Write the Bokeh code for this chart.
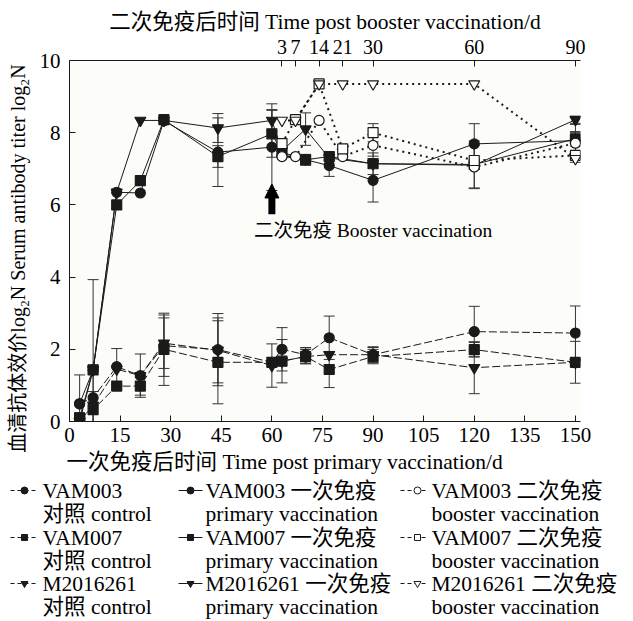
from bokeh.plotting import figure
from bokeh.models import (ColumnDataSource, Whisker, TeeHead, LinearAxis, FixedTicker,
                          Range1d, Arrow, NormalHead, Label)
from bokeh.core.properties import value
from bokeh.embed import file_html
from bokeh.resources import INLINE

# ---------------- data ----------------
days = [3, 7, 14, 21, 28, 44, 60, 63, 70, 77, 90, 120, 150]
booster_day = 60
boost_rel = [3, 7, 14, 21, 30, 60, 90]
x_ticks = [0, 15, 30, 45, 60, 75, 90, 105, 120, 135, 150]
y_ticks = [0, 2, 4, 6, 8, 10]

# controls (dashed)
ctrl_vam003 = [0.49, 0.66, 1.52, 1.27, 2.10, 1.99, 1.64, 2.00, 1.85, 2.32, 1.85, 2.49, 2.45]
ctrl_vam003_err = [0.8, 0.9, 0.5, 0, 0.85, 1.0, 0, 0.6, 0.2, 0.6, 0.22, 0.7, 0.75]
ctrl_vam007 = [0.10, 0.33, 0.98, 0.98, 2.00, 1.64, 1.64, 1.67, 1.80, 1.44, 1.80, 1.99, 1.64]
ctrl_vam007_err = [0, 0.5, 0, 0.25, 1.0, 1.15, 0, 0.6, 0.2, 0.5, 0.2, 0.2, 0.58]
ctrl_m2016261 = [0.00, 0.45, 1.45, 1.27, 2.17, 1.97, 1.55, 1.67, 1.80, 1.85, 1.85, 1.49, 1.64]
ctrl_m2016261_err = [0, 0, 0, 0.6, 0.7, 0.9, 0.6, 0, 0.2, 0, 0.2, 0.72, 0]

# primary vaccination (solid)
prim_vam003 = [0.49, 1.43, 6.35, 6.33, 8.33, 7.46, 7.60, 7.35, 7.25, 7.09, 6.68, 7.69, 7.78]
prim_vam003_err = [0, 0, 0, 0, 0, 0.95, 1.2, 0, 0, 0.3, 0.6, 0.56, 0.45]
prim_vam007 = [0.10, 1.43, 6.00, 6.67, 8.36, 7.34, 7.97, 7.46, 7.25, 7.34, 7.14, 7.12, 7.83]
prim_vam007_err = [0, 2.5, 0, 0, 0, 0.3, 0.65, 0, 0.15, 0.1, 0.3, 0.65, 0.2]
prim_m2016261 = [0.00, 1.43, 6.35, 8.34, 8.34, 8.13, 8.34, 7.50, 8.10, 7.30, 7.14, 7.10, 8.36]
prim_m2016261_err = [0, 0, 0, 0, 0, 0.4, 0.3, 0, 0.45, 0, 0, 0, 0.1]

# booster vaccination (dotted), x = booster_day + boost_rel
boost_vam003 = [7.34, 7.34, 8.34, 7.34, 7.65, 7.05, 7.71]
boost_vam003_err = [0, 0, 0, 0, 0.3, 0.6, 0.3]
boost_vam007 = [7.70, 8.36, 9.35, 7.55, 8.00, 7.23, 7.37]
boost_vam007_err = [0, 0, 0, 0, 0.25, 0, 0.1]
boost_m2016261 = [8.34, 8.34, 9.35, 9.35, 9.35, 9.35, 7.28]
boost_m2016261_err = [0, 0, 0, 0, 0, 0, 0.1]

legend_labels = [
    "VAM003\n对照 control", "VAM007\n对照 control", "M2016261\n对照 control",
    "VAM003 一次免疫\nprimary vaccination", "VAM007 一次免疫\nprimary vaccination",
    "M2016261 一次免疫\nprimary vaccination",
    "VAM003 二次免疫\nbooster vaccination", "VAM007 二次免疫\nbooster vaccination",
    "M2016261 二次免疫\nbooster vaccination",
]

FONT = "'Liberation Serif', 'Noto Sans CJK SC'"
INK = "#1a1a1a"
NBSP = "\u00a0"

boost_days = [booster_day + d for d in boost_rel]

p = figure(frame_width=511, frame_height=361,
           x_range=Range1d(0, 151.5), y_range=Range1d(0, 10),
           output_backend="svg", toolbar_location=None,
           min_border_left=69, min_border_top=60, min_border_right=52, min_border_bottom=57,
           background_fill_color="#fcfcf8", border_fill_color="white",
           outline_line_color=None)
p.grid.visible = False


def style_axis(ax, label_size="21px", title_size="21.5px"):
    ax.major_tick_in = 6
    ax.major_tick_out = 0
    ax.minor_tick_line_color = None
    ax.axis_line_color = INK
    ax.major_tick_line_color = INK
    ax.major_label_text_font = FONT
    ax.major_label_text_font_size = label_size
    ax.major_label_text_color = "black"
    ax.axis_label_text_font = FONT
    ax.axis_label_text_font_size = title_size
    ax.axis_label_text_font_style = "normal"
    ax.axis_label_text_color = "black"


p.xaxis.ticker = FixedTicker(ticks=x_ticks)
p.yaxis.ticker = FixedTicker(ticks=y_ticks)
# trailing no-break spaces shift the centred titles slightly, as in the reference
p.xaxis.axis_label = "一次免疫后时间 Time post primary vaccination/d" + NBSP * 15
p.yaxis.axis_label = "血清抗体效价log₂N Serum antibody titer log₂N" + NBSP * 7
style_axis(p.xaxis[0])
style_axis(p.yaxis[0], title_size="20px")
p.xaxis.major_label_standoff = 6
p.xaxis.axis_label_standoff = 5
p.yaxis.major_label_standoff = 9
p.yaxis.axis_label_standoff = 8

top = LinearAxis(ticker=FixedTicker(ticks=boost_days),
                 major_label_overrides={bd: str(d) for bd, d in zip(boost_days, boost_rel)},
                 axis_label="二次免疫后时间 Time post booster vaccination/d")
style_axis(top, "20px", "21.5px")
top.major_label_standoff = 7
top.axis_label_standoff = 3
p.add_layout(top, "above")

series = [
    # (x, y, err, marker, fill, dash, width)
    (days, ctrl_vam003, ctrl_vam003_err, "circle", INK, "8 3", 1),
    (days, ctrl_vam007, ctrl_vam007_err, "square", INK, "8 3", 1),
    (days, ctrl_m2016261, ctrl_m2016261_err, "inverted_triangle", INK, "8 3", 1),
    (days, prim_vam003, prim_vam003_err, "circle", INK, "solid", 1),
    (days, prim_vam007, prim_vam007_err, "square", INK, "solid", 1),
    (days, prim_m2016261, prim_m2016261_err, "inverted_triangle", INK, "solid", 1),
    (boost_days, boost_vam003, boost_vam003_err, "circle", "white", "2 4", 2),
    (boost_days, boost_vam007, boost_vam007_err, "square", "white", "2 4", 2),
    (boost_days, boost_m2016261, boost_m2016261_err, "inverted_triangle", "white", "2 4", 2),
]

for xs, ys, es, mk, fill, dash, w in series:
    p.line(xs, ys, line_color=INK, line_width=w, line_dash=dash)

for xs, ys, es, mk, fill, dash, w in series:
    bx = [x for x, e in zip(xs, es) if e > 0]
    up = [y + e for y, e in zip(ys, es) if e > 0]
    lo = [y - e for y, e in zip(ys, es) if e > 0]
    src = ColumnDataSource(dict(base=bx, upper=up, lower=lo))
    p.add_layout(Whisker(source=src, base="base", upper="upper", lower="lower",
                         dimension="height", line_color="#333333", line_width=1,
                         upper_head=TeeHead(size=11, line_color="#333333", line_width=1),
                         lower_head=TeeHead(size=11, line_color="#333333", line_width=1)))

for xs, ys, es, mk, fill, dash, w in series:
    size = 10 if mk != "inverted_triangle" else 11
    p.scatter(xs, ys, marker=mk, size=size, line_color=INK, fill_color=fill, line_width=1.2)

p.add_layout(Arrow(end=NormalHead(size=14, fill_color="black", line_color="black"),
                   x_start=booster_day, y_start=5.74, x_end=booster_day, y_end=6.58,
                   line_width=7, line_color="black"))
p.add_layout(Label(x=booster_day, y=5.29, x_offset=-18, text="二次免疫 Booster vaccination",
                   text_font=FONT, text_font_size="19.5px", text_baseline="middle",
                   text_color="black"))

# ---------------- legend panel (separate root; pixel-like coordinates) ----------------
LEG_H = 143
leg = figure(width=632, height=LEG_H, x_range=Range1d(0, 632), y_range=Range1d(LEG_H, 0),
             output_backend="svg", toolbar_location=None,
             x_axis_location=None, y_axis_location=None,
             min_border_left=0, min_border_right=0, min_border_top=0, min_border_bottom=0,
             outline_line_color=None, background_fill_color="white", border_fill_color="white")
leg.grid.visible = False

col_line = [(10, 38), (178, 202), (400, 428)]
col_mark = [24, 190, 417]
col_text = [42, 205, 431]
row_y = [12, 59, 105]
line_gap = 23

for i, ((xs, ys, es, mk, fill, dash, w), lab) in enumerate(zip(series, legend_labels)):
    c, r = divmod(i, 3)
    y0 = row_y[r]
    x0, x1 = col_line[c]
    leg.line([x0, x1], [y0, y0], line_color=INK, line_width=1,
             line_dash="4 3" if dash != "solid" else "solid")
    leg.scatter([col_mark[c]], [y0], marker=mk, size=7 if mk != "square" else 6,
                line_color=INK, fill_color=fill, line_width=1)
    first, second = lab.split("\n")
    leg.text([col_text[c], col_text[c]], [y0, y0 + line_gap], text=[first, second],
             text_font=value(FONT), text_font_size="21.5px", text_baseline="middle",
             text_align="left", text_color="black")

open("out.html", "w").write(file_html([p, leg], INLINE))
